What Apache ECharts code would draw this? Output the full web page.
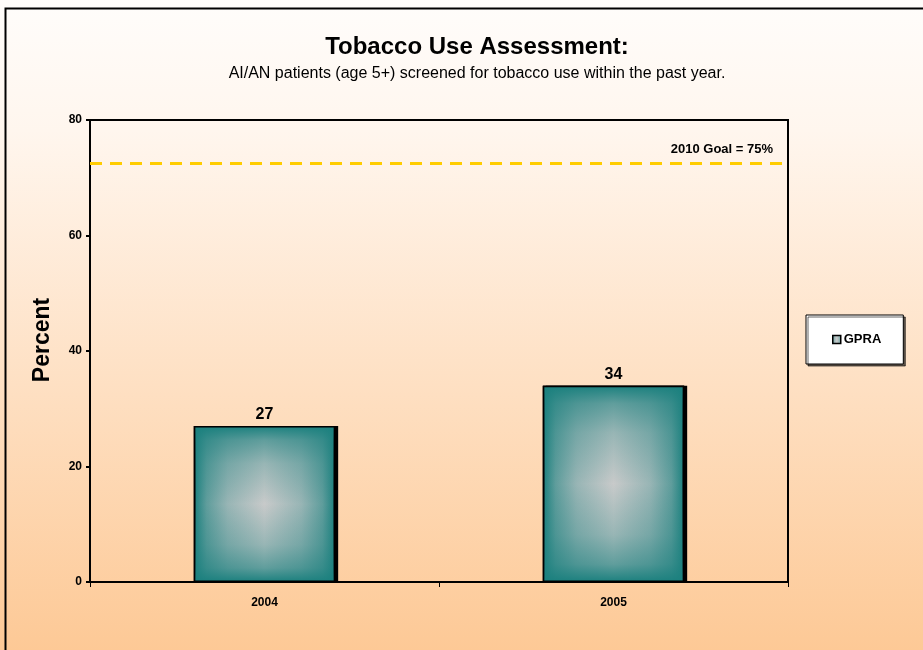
<!DOCTYPE html>
<html><head><meta charset="utf-8">
<script src="https://cdn.jsdelivr.net/npm/echarts@6/dist/echarts.min.js"></script>
<style>html,body{margin:0;padding:0;}#c{width:923px;height:650px;}</style>
</head><body><div id="c"></div>
<script>
var categories = ['2004', '2005'];
var gpraValues = [27, 34];
var goalValue = 72.5;
var goalLabel = '2010 Goal = 75%';
var yTicks = [0, 20, 40, 60, 80];
var seriesName = 'GPRA';

var teal = '#1b807e';
var chart = echarts.init(document.getElementById('c'));
var hFill = {
  type: 'linear', x: 0, y: 0, x2: 1, y2: 0,
  colorStops: [
    {offset: 0, color: teal}, {offset: 0.09, color: '#5f9d9c'}, {offset: 0.24, color: '#98b5b5'},
    {offset: 0.5, color: '#c8caca'},
    {offset: 0.76, color: '#98b5b5'}, {offset: 0.91, color: '#5f9d9c'}, {offset: 1, color: teal}]
};
var vFill = {
  type: 'linear', x: 0, y: 0, x2: 0, y2: 1,
  colorStops: [
    {offset: 0, color: 'rgba(27,128,126,1)'}, {offset: 0.09, color: 'rgba(27,128,126,0.6)'}, {offset: 0.24, color: 'rgba(27,128,126,0.28)'},
    {offset: 0.5, color: 'rgba(27,128,126,0)'},
    {offset: 0.76, color: 'rgba(27,128,126,0.28)'}, {offset: 0.91, color: 'rgba(27,128,126,0.6)'}, {offset: 1, color: 'rgba(27,128,126,1)'}]
};
chart.setOption({
  backgroundColor: {
    type: 'linear', x: 0, y: 0, x2: 0, y2: 1,
    colorStops: [{offset: 0, color: '#fffdfb'}, {offset: 0.2, color: '#fff6ee'}, {offset: 1, color: '#fdc996'}]
  },
  textStyle: {fontFamily: 'Liberation Sans, Arial, sans-serif'},
  graphic: [{
    type: 'rect', shape: {x: 5.5, y: 8.5, width: 940, height: 660},
    style: {fill: 'none', stroke: '#000', lineWidth: 2}, silent: true
  }],
  title: {
    text: 'Tobacco Use Assessment:',
    subtext: 'AI/AN patients (age 5+) screened for tobacco use within the past year.',
    left: 472, top: 30, textAlign: 'center', itemGap: 7,
    textStyle: {fontSize: 24, fontWeight: 'bold', color: '#000', fontFamily: 'Liberation Sans'},
    subtextStyle: {fontSize: 16, color: '#000', fontFamily: 'Liberation Sans'}
  },
  legend: {
    left: 806, top: 315, orient: 'vertical',
    backgroundColor: '#fff', borderColor: '#000', borderWidth: 1,
    padding: [18, 22, 18, 26],
    shadowColor: 'rgba(0,0,0,0.6)', shadowOffsetX: 2, shadowOffsetY: 2, shadowBlur: 0,
    itemWidth: 8, itemHeight: 8, itemGap: 4, icon: 'rect',
    itemStyle: {borderColor: '#000', borderWidth: 1.5},
    textStyle: {fontSize: 13, fontWeight: 'bold', color: '#000', padding: [0, 0, 0, -2]},
    data: [seriesName]
  },
  grid: {left: 90, right: 135, top: 120, bottom: 68, show: true, borderColor: '#000', borderWidth: 2, backgroundColor: 'transparent'},
  xAxis: {
    type: 'category', data: categories,
    axisLine: {lineStyle: {color: '#000', width: 2}},
    axisTick: {show: true, inside: false, length: 5, lineStyle: {color: '#000', width: 1}},
    axisLabel: {margin: 15, fontSize: 12, fontWeight: 'bold', color: '#000'}
  },
  yAxis: {
    type: 'value', min: yTicks[0], max: yTicks[yTicks.length - 1], interval: 20,
    name: 'Percent', nameLocation: 'middle', nameGap: 36, nameRotate: 90,
    nameTextStyle: {fontSize: 23, fontWeight: 'bold', color: '#000', padding: [0, 0, 0, 22]},
    axisLine: {show: true, lineStyle: {color: '#000', width: 2}},
    axisTick: {show: true, length: 4, lineStyle: {color: '#000', width: 2}},
    axisLabel: {margin: 8, fontSize: 12, fontWeight: 'bold', color: '#000'},
    splitLine: {show: false}
  },
  series: [{
    name: 'shadow', type: 'bar', data: gpraValues, barWidth: '40.5%', barGap: '-100%', silent: true,
    itemStyle: {color: '#000', shadowColor: '#000', shadowOffsetX: 3, shadowOffsetY: 0, shadowBlur: 0}
  }, {
    name: seriesName, type: 'bar', data: gpraValues, barWidth: '40.5%', barGap: '-100%',
    itemStyle: {color: hFill, borderColor: '#000', borderWidth: 1.5},
    markLine: {
      silent: true, symbol: 'none',
      lineStyle: {color: '#ffcc00', width: 3, type: [12, 8]},
      label: {show: true, position: 'insideEndTop', formatter: goalLabel, fontSize: 13, fontWeight: 'bold', color: '#000', distance: [15, 7]},
      data: [{yAxis: goalValue}]
    }
  }, {
    name: 'overlay', type: 'bar', data: gpraValues, barWidth: '40.5%', barGap: '-100%', silent: true,
    itemStyle: {color: vFill, borderColor: '#000', borderWidth: 1.5},
    label: {show: true, position: 'top', distance: 3, fontSize: 16, fontWeight: 'bold', color: '#000'}
  }]
});
</script></body></html>
